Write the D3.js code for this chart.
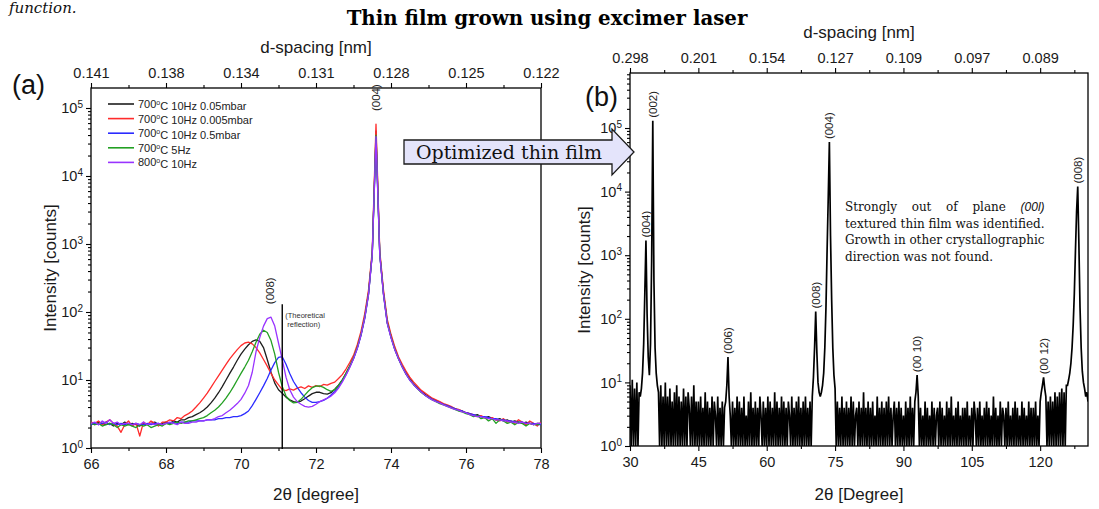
<!DOCTYPE html>
<html><head><meta charset="utf-8">
<script src="https://cdn.jsdelivr.net/npm/d3@7"></script>
<style>
body{margin:0;background:#fff}
svg{display:block}
</style>
</head><body>
<svg id="c" width="1099" height="509" font-family="Liberation Sans, Arial, sans-serif"></svg>
<script>
// ---------------- DATA ----------------
// Panel (a): 2θ grid 66.0 .. 78.0 step 0.1
const leftTheta = d3.range(0, 121).map(i => +(66 + i * 0.1).toFixed(1));

const c700_10Hz_005mbar = [
2.3,2.2,2.4,2.3,2.2,2.3,2.1,2.3,2.2,2.4,
2.2,2.3,2.2,2.1,2.3,2.2,2.3,2.4,2.2,2.3,
2.4,2.3,2.5,2.4,2.6,2.6,2.8,2.9,3.1,3.3,
3.6,4.0,4.6,5.4,6.5,8.0,10,12.5,15.5,19.5,
24,28.5,33,37,39,37,30,20,13,9,
7.2,6.4,5.6,5.1,4.8,4.7,4.9,5.3,5.8,6.3,
6.6,6.6,6.3,6.2,6.5,7.3,8.4,10,12.5,16,
21,30,47,85,190,720,46000,730,190,72,
44,29,21,16,12.8,10.5,8.9,7.8,6.9,6.2,
5.7,5.3,5.0,4.7,4.4,4.2,4.0,3.8,3.6,3.5,
3.3,3.2,3.0,3.1,2.9,2.8,2.9,2.7,2.6,2.7,
2.5,2.6,2.4,2.5,2.4,2.3,2.4,2.3,2.2,2.3,
2.3];

const c700_10Hz_0005mbar = [
2.4,2.3,2.5,2.2,2.4,2.6,2.3,2.1,1.7,2.2,
2.5,2.1,2.3,1.5,2.4,2.2,2.5,2.3,2.1,2.4,
2.4,2.6,2.5,2.8,2.7,3.0,3.2,3.5,4.0,4.6,
5.4,6.4,7.8,9.5,11.5,14,17,20.5,24,28,
32,35,36,34,30,25,20,16,12.5,10,
8.5,7.2,7.0,7.4,7.1,7.6,7.9,7.5,8.2,7.8,
8.3,8.0,8.6,8.4,8.9,9.3,10.5,12,14.5,18,
23,33,52,95,210,800,58000,800,210,78,
47,31,22,17,13.5,11,9.4,8.2,7.1,6.5,
5.9,5.4,5.1,4.8,4.5,4.3,4.1,3.8,3.7,3.5,
3.3,3.2,3.1,2.9,3.0,2.8,2.7,2.8,2.6,2.5,
2.7,2.4,2.5,2.3,2.6,2.4,2.2,2.5,2.3,2.1,
2.4];

const c700_10Hz_05mbar = [
2.2,2.3,2.2,2.3,2.4,2.2,2.3,2.2,2.3,2.2,
2.3,2.2,2.3,2.2,2.2,2.3,2.2,2.3,2.3,2.2,
2.3,2.3,2.4,2.3,2.4,2.4,2.4,2.5,2.5,2.5,
2.5,2.6,2.6,2.6,2.7,2.7,2.8,2.8,2.9,2.9,
3.0,3.2,3.5,4.2,5.2,6.5,8.2,10.5,14,18,
21.5,22,17,12.5,9.5,7.8,6.5,5.6,5.0,4.7,
4.7,4.8,5.0,5.4,6.0,6.8,8.0,9.7,12,15.5,
20.5,29,45,80,180,700,36000,700,180,68,
42,28,20.5,15.5,12.2,10,8.6,7.6,6.7,6.0,
5.6,5.2,4.9,4.6,4.4,4.2,4.0,3.8,3.6,3.5,
3.3,3.2,3.1,3.0,2.9,2.9,2.8,2.7,2.7,2.6,
2.6,2.5,2.5,2.4,2.4,2.4,2.3,2.3,2.3,2.2,
2.2];

const c700_5Hz = [
2.3,2.2,2.3,2.1,2.2,2.3,2.2,2.0,2.2,2.1,
2.2,2.1,2.0,2.2,2.1,2.2,2.0,2.1,2.2,2.1,
2.3,2.2,2.3,2.4,2.3,2.4,2.5,2.5,2.6,2.7,
2.8,3.0,3.3,3.6,4.0,4.6,5.4,6.5,8,10,
12.5,15.5,19.5,26,36,47,54,50,38,24,
13,8,5.8,5.0,4.6,4.7,5.2,6.0,6.9,7.7,
8.1,8.2,7.8,7.2,6.8,7.2,8.3,10,12.5,16,
21,30,47,84,185,720,40000,720,185,70,
43,28.5,20.5,15.5,12.3,10.1,8.6,7.5,6.6,6.0,
5.5,5.1,4.8,4.5,4.3,4.1,3.9,3.7,3.5,3.4,
3.2,3.1,2.9,3.0,2.7,2.8,2.5,2.7,2.3,2.6,
2.5,2.3,2.4,2.2,2.4,2.3,2.1,2.3,2.2,2.2,
2.3];

const c800_10Hz = [
2.3,2.4,2.2,2.5,2.3,2.6,2.3,2.4,2.2,2.3,
2.3,2.2,2.3,2.2,2.4,2.2,2.3,2.2,2.3,2.2,
2.3,2.4,2.3,2.2,2.4,2.3,2.3,2.4,2.4,2.5,
2.5,2.6,2.6,2.7,2.9,3.0,3.3,3.6,4.0,4.5,
5.2,6.4,8.3,13,26,42,62,80,84,62,
35,20,11,7.2,5.6,4.8,4.4,4.1,4.0,4.1,
4.4,4.8,5.1,5.4,5.8,6.5,7.6,9.3,11.8,15.3,
20.5,29,46,82,180,700,38000,700,180,68,
42,28,20.5,15.5,12.3,10,8.6,7.5,6.7,6.0,
5.5,5.1,4.8,4.6,4.3,4.1,3.9,3.7,3.6,3.4,
3.3,3.1,3.0,2.9,2.9,2.8,2.7,2.7,2.6,2.6,
2.5,2.5,2.4,2.4,2.3,2.4,2.3,2.3,2.2,2.3,
2.3];

const leftSeries = [c700_10Hz_005mbar, c700_10Hz_0005mbar, c700_10Hz_05mbar, c700_5Hz, c800_10Hz];
const legendTemps = ["700", "700", "700", "700", "800"];
const legendRest = ["C 10Hz 0.05mbar", "C 10Hz 0.005mbar", "C 10Hz 0.5mbar", "C 5Hz", "C 10Hz"];
const leftColors = ["#1e1e1e", "#ff2b2b", "#2b2bff", "#23a023", "#9933ff"];

const leftBottomTicks = [66, 68, 70, 72, 74, 76, 78];
const leftMinorTicks = [67, 69, 71, 73, 75, 77];
const leftTopLabels = ["0.141", "0.138", "0.134", "0.131", "0.128", "0.125", "0.122"];
const leftPeakLabels = [{t: "(008)", theta: 70.78, counts: 84}, {t: "(004)", theta: 73.6, counts: 58000}];
const theoTheta = 71.1, theoTop = 130;

// Panel (b): 2θ grid 30.0 .. 130.5 step 0.25 (0 = no counts)
const rightTheta = d3.range(0, 403).map(i => 30 + i * 0.25);
const rightCounts = [
9,0,11,0,8,0,10,0,7,
6,8,14,40,250,1700,120,25,13,40,800,130000,400,35,14,9,
7,0,9,0,6,0,10,0,6,0,8,0,5,0,7,0,9,0,6,0,5,0,8,0,6,0,7,4,0,6,0,9,0,5,0,
5,0,6,0,4,0,7,0,5,0,4,0,6,0,5,3,0,6,0,4,0,5,0,4,
5,9,25,6,3,
0,5,0,4,0,6,0,5,0,4,0,6,0,3,0,5,0,7,0,4,0,5,0,4,0,6,3,0,5,0,4,0,6,0,5,0,4,0,7,0,
5,0,4,0,6,0,5,0,4,0,5,3,0,6,0,4,0,5,0,6,0,4,0,5,0,6,0,4,0,5,0,
6,12,35,130,30,10,7,6,7,9,14,35,150,1200,8000,60000,2000,200,35,13,8,
0,5,0,4,0,6,0,4,0,5,0,4,0,6,0,5,0,3,4,0,5,0,4,0,7,0,4,0,5,0,4,0,5,0,3,0,6,0,4,0,
5,0,4,0,5,0,6,0,4,0,3,5,0,4,0,5,0,4,0,3,0,5,0,4,0,6,0,4,0,
5,7,13,6,
0,4,0,3,0,5,0,4,0,3,0,5,0,4,0,3,4,0,5,0,4,0,3,0,5,0,4,0,6,0,3,0,4,0,5,0,3,0,4,0,
4,0,5,0,3,0,4,0,5,3,0,4,0,5,0,3,0,4,0,5,0,4,0,3,0,6,0,4,0,3,0,5,0,4,3,0,4,0,5,0,
3,0,4,0,5,0,4,0,3,0,5,0,4,0,3,0,5,0,4,0,4,0,5,0,3,0,
5,7,9,12,8,6,
0,5,0,6,0,5,0,7,0,6,0,7,0,8,0,7,0,9,
9,11,14,20,35,80,250,1200,5000,12000,1500,150,35,15,10,8,6,7,5];

const rightBottomTicks = [30, 45, 60, 75, 90, 105, 120];
const rightMinorTicks = [37.5, 52.5, 67.5, 82.5, 97.5, 112.5, 127.5];
const rightTopLabels = ["0.298", "0.201", "0.154", "0.127", "0.109", "0.097", "0.089"];
const rightPeakLabels = [
  {t: "(004)", theta: 33.5, counts: 1700}, {t: "(002)", theta: 35.0, counts: 130000},
  {t: "(006)", theta: 51.5, counts: 25}, {t: "(008)", theta: 70.75, counts: 130},
  {t: "(004)", theta: 73.75, counts: 60000}, {t: "(00 10)", theta: 93.0, counts: 13},
  {t: "(00 12)", theta: 120.75, counts: 12}, {t: "(008)", theta: 128.25, counts: 12000}];

const decades = [1, 10, 100, 1e3, 1e4, 1e5];

// ---------------- DRAW ----------------
const SANS = '"Liberation Sans", Arial, sans-serif';
const SERIF = '"DejaVu Serif", serif';
const svg = d3.select("#c");

function minorLog(top) {
  const out = [];
  for (let e = 0; e < 6; e++) for (let k = 2; k <= 9; k++) { const v = k * Math.pow(10, e); if (v < top) out.push(v); }
  return out;
}

function styleAxis(g, fs) {
  g.select(".domain").remove();
  g.attr("font-family", null).attr("font-size", null);
  g.selectAll(".tick line").attr("stroke", "#000").attr("stroke-width", 1.1);
  g.selectAll(".tick text").attr("fill", "#1a1a1a").style("font-size", fs + "px").style("font-family", SANS);
}

function panel(o) {
  const x = d3.scaleLinear().domain(o.xDomain).range([o.left, o.right]);
  const y = d3.scaleLog().domain([1, o.yTop]).range([o.bottom, o.top]);
  const g = svg.append("g");
  const id = "clip" + o.name;
  svg.append("clipPath").attr("id", id).append("rect")
    .attr("x", o.left).attr("y", o.top).attr("width", o.right - o.left).attr("height", o.bottom - o.top);

  const gb = g.append("g").attr("transform", `translate(0,${o.bottom})`)
    .call(d3.axisBottom(x).tickValues(o.ticks).tickFormat(d3.format("d")).tickSize(5).tickSizeOuter(0).tickPadding(6));
  styleAxis(gb, 14.5);
  const gbm = g.append("g").attr("transform", `translate(0,${o.bottom})`)
    .call(d3.axisBottom(x).tickValues(o.minor).tickFormat("").tickSize(3).tickSizeOuter(0));
  styleAxis(gbm, 14);
  const gt = g.append("g").attr("transform", `translate(0,${o.top})`)
    .call(d3.axisTop(x).tickValues(o.ticks).tickFormat((d, i) => o.topLabels[i]).tickSize(5).tickSizeOuter(0).tickPadding(5));
  styleAxis(gt, 14.5);
  const gtm = g.append("g").attr("transform", `translate(0,${o.top})`)
    .call(d3.axisTop(x).tickValues(o.minor).tickFormat("").tickSize(3).tickSizeOuter(0));
  styleAxis(gtm, 14);
  const gl = g.append("g").attr("transform", `translate(${o.left},0)`)
    .call(d3.axisLeft(y).tickValues(decades).tickSize(5).tickSizeOuter(0).tickPadding(3));
  styleAxis(gl, 14.5);
  gl.selectAll(".tick text").each(function (d) {
    const t = d3.select(this);
    t.text("10");
    t.append("tspan").attr("dy", "-0.55em").style("font-size", "10px").text(Math.round(Math.log10(d)));
  });
  const glm = g.append("g").attr("transform", `translate(${o.left},0)`)
    .call(d3.axisLeft(y).tickValues(minorLog(o.yTop)).tickFormat("").tickSize(3).tickSizeOuter(0));
  styleAxis(glm, 14);

  g.append("rect").attr("x", o.left).attr("y", o.top).attr("width", o.right - o.left).attr("height", o.bottom - o.top)
    .attr("fill", "none").attr("stroke", "#000").attr("stroke-width", 1.3);

  g.append("text").attr("x", (o.left + o.right) / 2).attr("y", o.top - 35).attr("text-anchor", "middle")
    .style("font-size", "17px").style("font-family", SANS).attr("fill", "#1a1a1a").text("d-spacing [nm]");
  g.append("text").attr("x", (o.left + o.right) / 2).attr("y", 500).attr("text-anchor", "middle")
    .style("font-size", "17px").style("font-family", SANS).attr("fill", "#1a1a1a").text(o.xTitle);
  g.append("text").attr("transform", `translate(${o.yTitleX},${o.yTitleY}) rotate(-90)`).attr("text-anchor", "middle")
    .style("font-size", "17px").style("font-family", SANS).attr("fill", "#1a1a1a").text("Intensity [counts]");
  g.append("text").attr("x", o.tagX).attr("y", o.tagY).style("font-size", "27px").style("font-family", SANS).attr("fill", "#111").text(o.tag);

  const plot = g.append("g").attr("clip-path", `url(#${id})`);
  return {x, y, g, plot};
}

// cut-off caption line from the page
svg.append("text").attr("x", 9).attr("y", 13).style("font-family", SERIF).style("font-style", "italic")
  .style("font-size", "15px").attr("fill", "#111").text("function.");
// main title
svg.append("text").attr("x", 547).attr("y", 25).attr("text-anchor", "middle").style("font-family", SERIF)
  .style("font-weight", "bold").style("font-size", "19.8px").attr("fill", "#000").text("Thin film grown using excimer laser");

// arrow
const arrowG = svg.append("g");
arrowG.append("path").attr("d", "M404,140 L612,140 L612,129 L634,152 L612,175 L612,164 L404,164 Z")
  .attr("fill", "#e4e4fb").attr("stroke", "#1a1a1a").attr("stroke-width", 1.3);
arrowG.append("text").attr("x", 509).attr("y", 159).attr("text-anchor", "middle").style("font-family", SERIF)
  .style("font-size", "19px").attr("fill", "#111").text("Optimized thin film");

// ---- panel (a)
const A = panel({name: "a", left: 91, right: 541, top: 88, bottom: 448, xDomain: [66, 78], yTop: Math.pow(10, 5.294),
  ticks: leftBottomTicks, minor: leftMinorTicks, topLabels: leftTopLabels, xTitle: "2\u03B8 [degree]",
  yTitleX: 56, yTitleY: 268, tag: "(a)", tagX: 12, tagY: 94});

const lineA = d3.line().x((d, i) => A.x(leftTheta[i])).y(d => A.y(Math.max(d, 1)));
leftSeries.forEach((s, k) => {
  A.plot.append("path").datum(s).attr("d", lineA).attr("fill", "none").attr("stroke", leftColors[k]).attr("stroke-width", 1.3)
    .attr("stroke-linejoin", "round");
});
A.g.append("line").attr("x1", A.x(theoTheta)).attr("x2", A.x(theoTheta)).attr("y1", A.y(theoTop)).attr("y2", A.y(1) + 1)
  .attr("stroke", "#000").attr("stroke-width", 1.4);
A.g.append("text").attr("x", A.x(theoTheta) + 3).attr("y", A.y(theoTop) + 14).style("font-size", "7.5px").style("font-family", SANS).attr("fill", "#333").text("(Theoretical");
A.g.append("text").attr("x", A.x(theoTheta) + 5).attr("y", A.y(theoTop) + 23).style("font-size", "7.5px").style("font-family", SANS).attr("fill", "#333").text("reflection)");
leftPeakLabels.forEach(p => {
  A.g.append("text").attr("transform", `translate(${A.x(p.theta)},${A.y(p.counts) - 13}) rotate(-90)`)
    .attr("dy", "0.35em").style("font-size", "11.5px").style("font-family", SANS).attr("fill", "#222").text(p.t);
});
const leg = A.g.append("g");
legendRest.forEach((r, k) => {
  const yy = 104 + k * 14.6;
  leg.append("line").attr("x1", 108).attr("x2", 134).attr("y1", yy).attr("y2", yy).attr("stroke", leftColors[k]).attr("stroke-width", 1.6);
  const t = leg.append("text").attr("x", 138).attr("y", yy + 4).style("font-size", "11px").style("font-family", SANS).attr("fill", "#222");
  t.append("tspan").text(legendTemps[k]);
  t.append("tspan").attr("dy", "-0.45em").style("font-size", "7px").text("o");
  t.append("tspan").attr("dy", "0.45em").text(r);
});

// ---- panel (b)
const B = panel({name: "b", left: 630, right: 1088, top: 73, bottom: 446, xDomain: [30, 130.5], yTop: Math.pow(10, 5.865),
  ticks: rightBottomTicks, minor: rightMinorTicks, topLabels: rightTopLabels, xTitle: "2\u03B8 [Degree]",
  yTitleX: 590, yTitleY: 270, tag: "(b)", tagX: 585, tagY: 106});
const lineB = d3.line().x((d, i) => B.x(rightTheta[i])).y(d => B.y(Math.max(d, 1)));
B.plot.append("path").datum(rightCounts).attr("d", lineB).attr("fill", "none").attr("stroke", "#000")
  .attr("stroke-width", 1.7).attr("stroke-linejoin", "miter").attr("stroke-miterlimit", 3);
rightPeakLabels.forEach(p => {
  B.g.append("text").attr("transform", `translate(${B.x(p.theta)},${B.y(p.counts) - 3}) rotate(-90)`)
    .attr("dy", "0.35em").style("font-size", "11.5px").style("font-family", SANS).attr("fill", "#222").text(p.t);
});

// annotation (justified)
const ann = B.g.append("g");
const annX = 845, annY = [211, 227.5, 244, 260.5];
function annText(str, yy) {
  return ann.append("text").attr("y", yy).style("font-family", SERIF).style("font-size", "12px").attr("fill", "#111").text(str);
}
const l2 = annText("textured thin film was identified.", annY[1]).attr("x", annX);
const fullW = l2.node().getComputedTextLength();
function justify(words, yy, italicLast) {
  const nodes = words.map((w, i) => {
    const t = annText(w, yy);
    if (italicLast && i === words.length - 1) t.style("font-family", SANS).style("font-style", "italic");
    return t;
  });
  const widths = nodes.map(n => n.node().getComputedTextLength());
  const gap = (fullW - d3.sum(widths)) / (words.length - 1);
  let xx = annX;
  nodes.forEach((n, i) => { n.attr("x", xx); xx += widths[i] + gap; });
}
justify(["Strongly", "out", "of", "plane", "(00l)"], annY[0], true);
justify(["Growth", "in", "other", "crystallographic"], annY[2], false);
annText("direction was not found.", annY[3]).attr("x", annX);

arrowG.raise();
</script>
</body></html>
